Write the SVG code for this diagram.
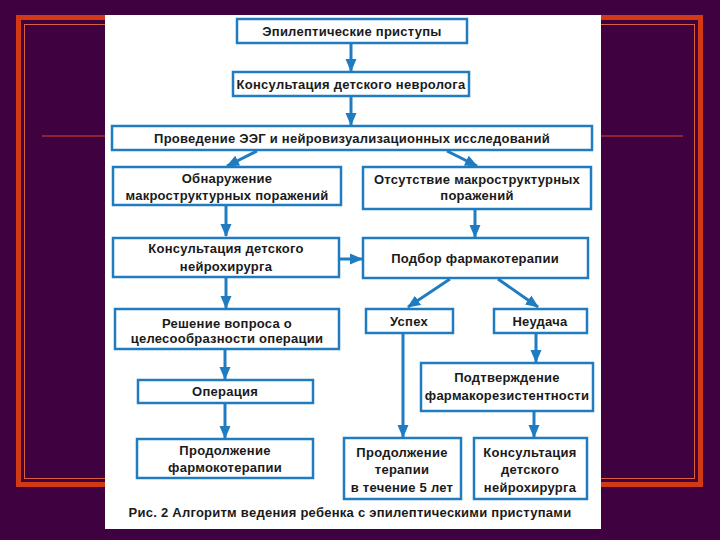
<svg xmlns="http://www.w3.org/2000/svg" width="720" height="540" viewBox="0 0 720 540">
<defs>
<style>
.box{fill:#ffffff;stroke:#1f7cc0;stroke-width:2.5}
.t{font-family:"Liberation Sans",Arial,sans-serif;font-weight:bold;font-size:13px;letter-spacing:0.25px;fill:#1a1a1a;text-anchor:middle}
.c{stroke:#1f7cc0;stroke-width:3;fill:none;marker-end:url(#ah)}
</style>
<marker id="ah" markerUnits="userSpaceOnUse" markerWidth="13" markerHeight="12" viewBox="0 0 13 12" refX="12" refY="6" orient="auto">
<path d="M0,0.5 L13,6 L0,11.5 z" fill="#1f7cc0"/>
</marker>
</defs>
<rect x="0" y="0" width="720" height="540" fill="#3f0140"/>
<rect x="18.5" y="17.5" width="682" height="467" fill="none" stroke="#d13a14" stroke-width="5"/>
<rect x="24.5" y="24.5" width="670" height="454" fill="none" stroke="#d8603c" stroke-width="1"/>
<line x1="42" y1="136" x2="683" y2="136" stroke="#d8442a" stroke-width="1"/>
<rect x="105" y="15" width="496" height="514" fill="#ffffff"/>

<g id="connectors">
<line class="c" x1="351" y1="43" x2="351" y2="71"/>
<line class="c" x1="351" y1="96" x2="351" y2="125"/>
<line class="c" x1="257" y1="151" x2="227" y2="166"/>
<line class="c" x1="447" y1="151" x2="477" y2="166"/>
<line class="c" x1="226" y1="205" x2="226" y2="236"/>
<line class="c" x1="475" y1="209" x2="475" y2="237"/>
<line class="c" x1="339" y1="259" x2="362" y2="259"/>
<line class="c" x1="226" y1="277" x2="226" y2="308"/>
<line class="c" x1="450" y1="279" x2="408" y2="307"/>
<line class="c" x1="498" y1="279" x2="538" y2="307"/>
<line class="c" x1="225" y1="349" x2="225" y2="379"/>
<line class="c" x1="225" y1="403" x2="225" y2="438"/>
<line class="c" x1="403" y1="333" x2="403" y2="437"/>
<line class="c" x1="536" y1="333" x2="536" y2="362"/>
<line class="c" x1="534" y1="411" x2="534" y2="437"/>
</g>

<g id="n1"><rect class="box" x="237" y="19" width="230" height="24"/><text class="t" x="352" y="35.5">Эпилептические приступы</text></g>
<g id="n2"><rect class="box" x="233" y="72" width="236" height="24"/><text class="t" x="351" y="88.5">Консультация детского невролога</text></g>
<g id="n3"><rect class="box" x="112" y="126" width="480" height="24"/><text class="t" x="352" y="142.5">Проведение ЭЭГ и нейровизуализационных исследований</text></g>
<g id="n4"><rect class="box" x="113" y="167" width="228" height="38"/><text class="t" x="227" y="182.5">Обнаружение</text><text class="t" x="227" y="199.5">макроструктурных поражений</text></g>
<g id="n5"><rect class="box" x="363" y="167" width="228" height="42"/><text class="t" x="477" y="183.5">Отсутствие макроструктурных</text><text class="t" x="477" y="199.5">поражений</text></g>
<g id="n6"><rect class="box" x="113" y="238" width="226" height="39"/><text class="t" x="226" y="252.5">Консультация детского</text><text class="t" x="226" y="270.5">нейрохирурга</text></g>
<g id="n7"><rect class="box" x="363" y="238" width="225" height="40"/><text class="t" x="475" y="262.5">Подбор фармакотерапии</text></g>
<g id="n8"><rect class="box" x="115" y="309" width="224" height="40"/><text class="t" x="227" y="327.5">Решение вопроса о</text><text class="t" x="227" y="343">целесообразности операции</text></g>
<g id="n9"><rect class="box" x="138" y="380" width="175" height="23"/><text class="t" x="225" y="395.5">Операция</text></g>
<g id="n10"><rect class="box" x="137" y="439" width="176" height="39"/><text class="t" x="225" y="454.5">Продолжение</text><text class="t" x="225" y="471.5">фармокотерапии</text></g>
<g id="n11"><rect class="box" x="366" y="309" width="87" height="24"/><text class="t" x="409" y="325.5">Успех</text></g>
<g id="n12"><rect class="box" x="494" y="309" width="93" height="24"/><text class="t" x="540" y="325.5">Неудача</text></g>
<g id="n13"><rect class="box" x="421" y="363" width="172" height="48"/><text class="t" x="507" y="381.5">Подтверждение</text><text class="t" x="507" y="399.5">фармакорезистентности</text></g>
<g id="n14"><rect class="box" x="344" y="438" width="117" height="61"/><text class="t" x="402" y="456.5">Продолжение</text><text class="t" x="402" y="473.5">терапии</text><text class="t" x="402" y="491.5">в течение 5 лет</text></g>
<g id="n15"><rect class="box" x="474" y="438" width="113" height="61"/><text class="t" x="530" y="456.5">Консультация</text><text class="t" x="530" y="473.5">детского</text><text class="t" x="530" y="491.5">нейрохирурга</text></g>

<text class="t" x="350" y="516.5">Рис. 2 Алгоритм ведения ребенка с эпилептическими приступами</text>
</svg>
